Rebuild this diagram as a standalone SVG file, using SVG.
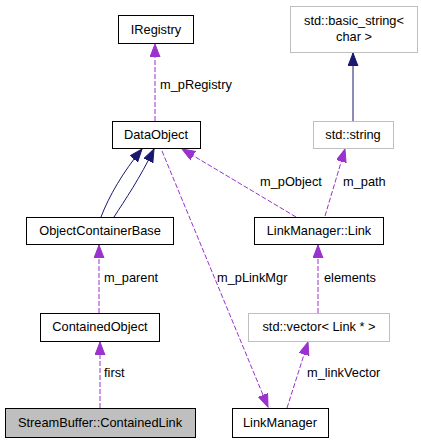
<svg xmlns="http://www.w3.org/2000/svg" width="421" height="443" viewBox="0 0 421 443">
<style>
text{font-family:"Liberation Sans",Arial,sans-serif;font-size:12.8px;fill:#000}
.n{text-anchor:middle}
.box{fill:#fff;stroke:#000;stroke-width:1}
.gbox{fill:#fff;stroke:#bfbfbf;stroke-width:1}
.sel{fill:#bfbfbf;stroke:#000;stroke-width:1}
.u{fill:none;stroke:#9a32cd;stroke-width:1;stroke-dasharray:5,2}
.h{fill:none;stroke:#191970;stroke-width:1}
</style>
<defs>
<marker id="pa" markerUnits="userSpaceOnUse" markerWidth="14" markerHeight="11" refX="13" refY="5" orient="auto"><path d="M0,0 L13,5 L0,10 z" fill="#9a32cd" stroke="#9a32cd" stroke-width="1"/></marker>
<marker id="na" markerUnits="userSpaceOnUse" markerWidth="14" markerHeight="11" refX="13" refY="5" orient="auto"><path d="M0,0 L13,5 L0,10 z" fill="#191970" stroke="#191970" stroke-width="1"/></marker>
</defs>
<g id="connectors">
<path class="u" d="M155,121 L155,44" marker-end="url(#pa)"/>
<text x="160" y="89">m_pRegistry</text>
<path class="h" d="M101,217 C109,196 123,172 142,149" marker-end="url(#na)"/>
<path class="h" d="M114,217 C125,200 140,178 154,149" marker-end="url(#na)"/>
<path class="u" d="M162,151 L268,407" marker-end="url(#pa)"/>
<text x="217" y="282">m_pLinkMgr</text>
<path class="u" d="M296,217 L182,149" marker-end="url(#pa)"/>
<text x="260" y="186">m_pObject</text>
<path class="u" d="M325,216 L345,149" marker-end="url(#pa)"/>
<text x="343" y="186">m_path</text>
<path class="h" d="M353,121 L353,53" marker-end="url(#na)"/>
<path class="u" d="M99,313 L99,245" marker-end="url(#pa)"/>
<text x="104" y="282">m_parent</text>
<path class="u" d="M100,408 L100,342" marker-end="url(#pa)"/>
<text x="104" y="377">first</text>
<path class="u" d="M318,313 L318,245" marker-end="url(#pa)"/>
<text x="324" y="282">elements</text>
<path class="u" d="M287,408 L308,342" marker-end="url(#pa)"/>
<text x="307" y="377">m_linkVector</text>
</g>
<g id="IRegistry"><rect class="box" x="118.5" y="15.5" width="75" height="28"/><text class="n" x="156" y="34">IRegistry</text></g>
<g id="DataObject"><rect class="box" x="112.5" y="121.5" width="88" height="27"/><text class="n" x="156" y="139">DataObject</text></g>
<g id="ObjectContainerBase"><rect class="box" x="26.5" y="217.5" width="147" height="27"/><text class="n" x="100" y="235">ObjectContainerBase</text></g>
<g id="ContainedObject"><rect class="box" x="40.5" y="313.5" width="119" height="28"/><text class="n" x="100" y="331">ContainedObject</text></g>
<g id="StreamBufferContainedLink"><rect class="sel" x="5.5" y="408.5" width="190" height="29"/><text class="n" x="100" y="427">StreamBuffer::ContainedLink</text></g>
<g id="basic_string"><rect class="gbox" x="290.5" y="6.5" width="127" height="46"/><text class="n" x="354" y="25">std::basic_string&lt;</text><text class="n" x="354" y="41">char &gt;</text></g>
<g id="string"><rect class="gbox" x="313.5" y="121.5" width="80" height="27"/><text class="n" x="353" y="139">std::string</text></g>
<g id="LinkManagerLink"><rect class="box" x="254.5" y="217.5" width="129" height="27"/><text class="n" x="319" y="235">LinkManager::Link</text></g>
<g id="vector"><rect class="gbox" x="248.5" y="313.5" width="141" height="28"/><text class="n" x="319" y="331">std::vector&lt; Link * &gt;</text></g>
<g id="LinkManager"><rect class="box" x="232.5" y="408.5" width="96" height="29"/><text class="n" x="280" y="427">LinkManager</text></g>
</svg>
